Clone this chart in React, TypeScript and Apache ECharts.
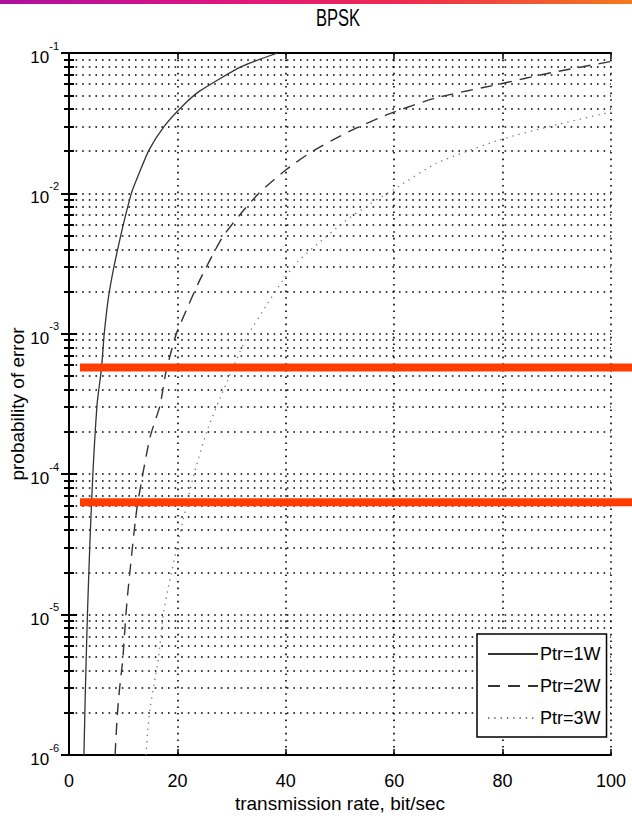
import React, { useEffect, useRef } from "react";
import * as echarts from "echarts";

// ---- data ----
const chartTitle = "BPSK";
const xName = "transmission rate, bit/sec";
const yName = "probability of error";
const xTicks = [0, 20, 40, 60, 80, 100];
const yMin = 1e-6;
const yMax = 1e-1;

const seriesNames = ["Ptr=1W", "Ptr=2W", "Ptr=3W"];

const rate1 = [2.75, 3.05, 3.4, 3.85, 4.4, 5.2, 6.0, 6.5, 7.4, 9.1, 11.5, 12.8, 14.8, 17.7, 21.1, 24.1, 31.8, 38.5];
const pe1 = [1.0e-6, 3.2e-6, 1.0e-5, 3.2e-5, 1.0e-4, 3.2e-4, 5.7e-4, 1.0e-3, 1.95e-3, 4.2e-3, 1.0e-2, 1.35e-2, 2.05e-2, 3.05e-2, 4.25e-2, 5.35e-2, 8.0e-2, 1.0e-1];

const rate2 = [8.5, 8.9, 9.3, 9.9, 10.5, 10.9, 12.5, 14.9, 16.8, 17.9, 19.8, 21.4, 24.1, 28.2, 31.6, 35, 40.1, 44.7, 51.8, 59.2, 67.8, 79.4, 88.7, 100];
const pe2 = [1.0e-6, 1.9e-6, 2.9e-6, 4.7e-6, 1.0e-5, 1.5e-5, 5.6e-5, 1.8e-4, 3.1e-4, 5.4e-4, 1.0e-3, 1.4e-3, 2.4e-3, 4.8e-3, 7.1e-3, 1.0e-2, 1.48e-2, 1.97e-2, 2.78e-2, 3.7e-2, 4.8e-2, 6.0e-2, 7.2e-2, 8.7e-2];

const rate3 = [14.2, 14.5, 15.0, 15.7, 16.5, 17.4, 18.3, 20.5, 22.9, 25.4, 27.9, 32.7, 36.7, 39.8, 42.3, 45.7, 50.6, 55.5, 59.8, 67.8, 79.4, 88.7, 100];
const pe3 = [1.0e-6, 1.45e-6, 2.2e-6, 3.2e-6, 4.9e-6, 1.0e-5, 1.55e-5, 3.8e-5, 9.5e-5, 2.0e-4, 3.5e-4, 9.3e-4, 1.66e-3, 2.5e-3, 3.3e-3, 4.3e-3, 6.2e-3, 8.4e-3, 1.06e-2, 1.64e-2, 2.4e-2, 3.0e-2, 3.8e-2];

// red horizontal marker lines
const redLevels = [5.75e-4, 6.3e-5];

// ---- styling ----
const FONT = "'Liberation Sans', Arial, sans-serif";
const dotted = { type: [1.6, 5] as number[], width: 1.6, color: "#000" };

const zip = (xs: number[], ys: number[]) => xs.map((x, i) => [x, ys[i]]);

function buildOption(): any {
  const axisLine = { show: true, lineStyle: { color: "#000", width: 2 } };
  const yLabel = {
    show: true,
    margin: 10,
    formatter: (v: number) => `{b|10}{e|${Math.round(Math.log10(v))}}`,
    rich: {
      b: { fontFamily: FONT, fontSize: 17, color: "#000", lineHeight: 26, verticalAlign: "bottom" },
      e: { fontFamily: FONT, fontSize: 11, color: "#000", lineHeight: 12, verticalAlign: "top" },
    },
  };
  return {
    animation: false,
    backgroundColor: "#fff",
    legend: {
      data: seriesNames,
      orient: "vertical",
      left: 477,
      top: 634,
      itemWidth: 50,
      itemHeight: 20,
      itemGap: 14,
      padding: [11, 6, 10, 10],
      borderColor: "#000",
      borderWidth: 1.5,
      backgroundColor: "#fff",
      selectedMode: false,
      itemStyle: { opacity: 0 },
      textStyle: { fontFamily: FONT, fontSize: 18, color: "#000", padding: [0, 0, 0, -3] },
    },
    graphic: [
      {
        type: "rect",
        left: 0,
        top: 0,
        shape: { width: 632, height: 4 },
        style: {
          fill: new echarts.graphic.LinearGradient(0, 0, 1, 0, [
            { offset: 0, color: "#ad0fa0" },
            { offset: 0.35, color: "#df1580" },
            { offset: 0.65, color: "#ee2c4e" },
            { offset: 1, color: "#f47a1e" },
          ]),
        },
        silent: true,
      },
      {
        type: "text",
        x: 338,
        y: 18,
        scaleX: 0.72,
        silent: true,
        style: {
          text: chartTitle,
          fontFamily: FONT,
          fontSize: 23,
          fill: "#000",
          textAlign: "center",
          textVerticalAlign: "middle",
        },
      },
    ],
    grid: [
      { left: 69, right: 21, top: 53, bottom: 76, outerBoundsMode: "none", containLabel: false },
      { left: 80, right: 0, top: 53, bottom: 76, outerBoundsMode: "none", containLabel: false },
    ],
    xAxis: [
      {
        type: "value",
        gridIndex: 0,
        min: xTicks[0],
        max: xTicks[xTicks.length - 1],
        interval: xTicks[1] - xTicks[0],
        axisLine,
        axisTick: { show: true, inside: true, length: 6, lineStyle: { color: "#000", width: 1.5 } },
        axisLabel: { margin: 17, fontFamily: FONT, fontSize: 18, color: "#000" },
        splitLine: { show: true, lineStyle: dotted },
        name: xName,
        nameLocation: "middle",
        nameGap: 39,
        nameMoveOverlap: false,
        nameTextStyle: { fontFamily: FONT, fontSize: 19, color: "#000" },
      },
      {
        type: "value",
        gridIndex: 0,
        position: "top",
        min: xTicks[0],
        max: xTicks[xTicks.length - 1],
        interval: xTicks[1] - xTicks[0],
        axisLine,
        axisTick: { show: true, inside: true, length: 6, lineStyle: { color: "#000", width: 1.5 } },
        axisLabel: { show: false },
        splitLine: { show: false },
      },
      { type: "value", gridIndex: 1, min: 0, max: 1, show: false },
    ],
    yAxis: [
      {
        type: "log",
        logBase: 10,
        gridIndex: 0,
        min: yMin,
        max: yMax,
        axisLine,
        axisTick: { show: true, inside: true, length: 8, lineStyle: { color: "#000", width: 2 } },
        minorTick: { show: true, splitNumber: 9, length: 5, lineStyle: { color: "#000", width: 2 } },
        splitLine: { show: true, lineStyle: dotted },
        minorSplitLine: { show: true, lineStyle: dotted },
        axisLabel: yLabel,
        name: yName,
        nameLocation: "middle",
        nameRotate: 90,
        nameGap: 42,
        nameMoveOverlap: false,
        nameTextStyle: { fontFamily: FONT, fontSize: 19, color: "#000" },
      },
      {
        type: "log",
        logBase: 10,
        gridIndex: 0,
        position: "right",
        min: yMin,
        max: yMax,
        axisLine,
        axisTick: { show: true, inside: true, length: 8, lineStyle: { color: "#000", width: 2 } },
        minorTick: { show: true, splitNumber: 9, length: 5, lineStyle: { color: "#000", width: 2 } },
        axisLabel: { show: false },
        splitLine: { show: false },
      },
      { type: "log", logBase: 10, gridIndex: 1, min: yMin, max: yMax, show: false },
    ],
    series: [
      {
        name: seriesNames[0],
        type: "line",
        xAxisIndex: 0,
        yAxisIndex: 0,
        data: zip(rate1, pe1),
        symbol: "none",
        smooth: 0.2,
        itemStyle: { color: "#333" },
        lineStyle: { color: "#333", width: 1.3, type: "solid" },
        z: 3,
      },
      {
        name: seriesNames[1],
        type: "line",
        xAxisIndex: 0,
        yAxisIndex: 0,
        data: zip(rate2, pe2),
        symbol: "none",
        smooth: 0.2,
        itemStyle: { color: "#333" },
        lineStyle: { color: "#333", width: 1.4, type: [12, 8] },
        z: 3,
      },
      {
        name: seriesNames[2],
        type: "line",
        xAxisIndex: 0,
        yAxisIndex: 0,
        data: zip(rate3, pe3),
        symbol: "none",
        smooth: 0.2,
        itemStyle: { color: "#777" },
        lineStyle: { color: "#777", width: 1.3, type: [1.3, 5] },
        z: 3,
      },
      ...redLevels.map((lv) => ({
        type: "line",
        xAxisIndex: 2,
        yAxisIndex: 2,
        data: [
          [0, lv],
          [1, lv],
        ],
        symbol: "none",
        silent: true,
        lineStyle: { color: "#ff3c00", width: 8 },
        z: 10,
      })),
    ],
  };
}

export default function App() {
  const ref = useRef<HTMLDivElement>(null);
  useEffect(() => {
    document.body.style.margin = "0";
    const chart = echarts.init(ref.current!, null, { renderer: "svg" });
    chart.setOption(buildOption());
    return () => chart.dispose();
  }, []);
  return <div ref={ref} style={{ width: 632, height: 831 }} />;
}
